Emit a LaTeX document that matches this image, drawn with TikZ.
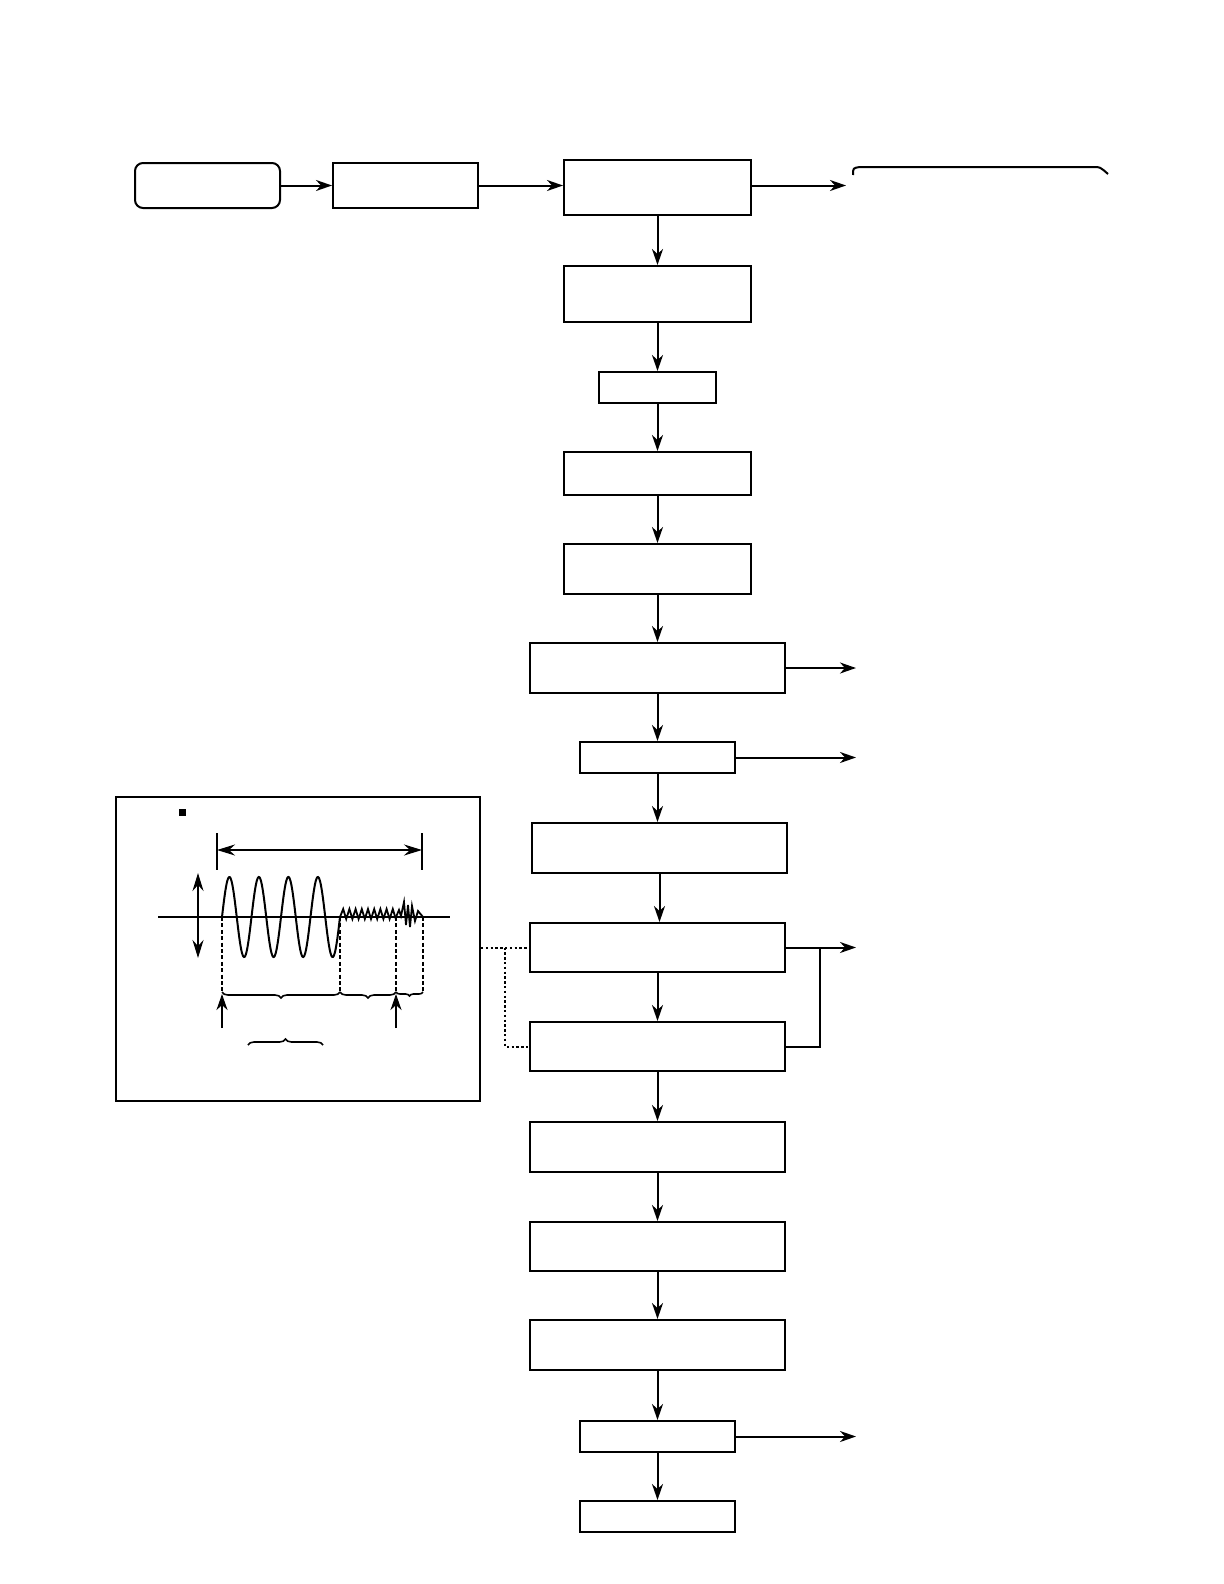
\documentclass[tikz,border=0pt]{standalone}
\usetikzlibrary{arrows.meta,positioning,decorations.pathreplacing}

\begin{document}
\begin{tikzpicture}[x=0.5pt,y=-0.5pt,
  blk/.style 2 args={draw,line width=1pt,inner sep=0pt,minimum width={#1*0.5pt},minimum height={#2*0.5pt}},
  flow/.style={-{Stealth[length=8pt,width=5.5pt,inset=2.5pt]},line width=1pt},
  dbl/.style={{Stealth[length=9pt,width=5.5pt,inset=3pt]}-{Stealth[length=9pt,width=5.5pt,inset=3pt]},line width=1pt},
  dotln/.style={line width=1pt,dash pattern=on 1.2pt off 1.2pt},
  guide/.style={line width=0.9pt,dash pattern=on 2pt off 1.2pt},
  brc/.style={decorate,decoration={brace,amplitude=3pt},line width=0.8pt}]
  \useasboundingbox (0,0) rectangle (1224,1584);

  % top row
  \node[blk={145}{45},rounded corners=4pt] (start) at (207.5,185.5) {};
  \node[blk={145}{45}] (load) at (405.5,185.5) {};
  \node[blk={187}{55}] (b3) at (657.5,187.5) {};
  \coordinate (o3) at (846,185.5);
  \draw[line width=1pt] (853,175) .. controls (853,168) .. (860,167) -- (1094,167) .. controls (1100,167) .. (1108,174);

  % main column
  \node[blk={187}{56}] (b4) at (657.5,294) {};
  \node[blk={117}{31}] (b5) at (657.5,387.5) {};
  \node[blk={187}{43}] (b6) at (657.5,473.5) {};
  \node[blk={187}{50}] (b7) at (657.5,569) {};
  \node[blk={255}{50}] (b8) at (657.5,668) {};
  \node[blk={155}{31}] (b9) at (657.5,757.5) {};
  \node[blk={255}{50}] (b10) at (659.5,848) {};
  \node[blk={255}{49}] (b11) at (657.5,947.5) {};
  \node[blk={255}{49}] (b12) at (657.5,1046.5) {};
  \node[blk={255}{50}] (b13) at (657.5,1147) {};
  \node[blk={255}{49}] (b14) at (657.5,1246.5) {};
  \node[blk={255}{50}] (b15) at (657.5,1345) {};
  \node[blk={155}{31}] (b16) at (657.5,1436.5) {};
  \node[blk={155}{31}] (b17) at (657.5,1516.5) {};
  \coordinate (o8) at (856,668);
  \coordinate (o9) at (856,757.5);
  \coordinate (o11) at (856,947.5);
  \coordinate (o16) at (856,1436.5);
  \coordinate (fb) at (820,1046.5);

  \draw[flow] (start) -- (load);
  \draw[flow] (load.east) -- (load.east -| b3.west);
  \draw[flow] (b3.east |- o3) -- (o3);
  \foreach \a/\b in {b3/b4,b4/b5,b5/b6,b6/b7,b7/b8,b8/b9,b9/b10,b10/b11,b11/b12,b12/b13,b13/b14,b14/b15,b15/b16,b16/b17}
    \draw[flow] (\a.south) -- (\a.south |- \b.north);
  \draw[flow] (b8) -- (o8);
  \draw[flow] (b9) -- (o9);
  \draw[flow] (b11) -- (o11);
  \draw[flow] (b16) -- (o16);
  \draw[line width=1pt] (b12.east) -- (fb) -- (fb |- b11.east);

  % inset with waveform
  \node[blk={364}{304}] (inset) at (298,949) {};
  \draw[dotln] (inset.east |- b11.west) -- (b11.west);
  \draw[dotln] (505,947.5) |- (b12.west);
  \fill (179,809) rectangle (186,816);
  \draw[line width=1pt] (217,833) -- (217,870) (422,833) -- (422,870);
  \draw[dbl] (217,850) -- (422,850);
  \draw[dbl] (198,873) -- (198,958);
  \draw[line width=1pt] (158,917) -- (450,917);
  \draw[line width=1pt,domain=222:340,samples=200] plot ({\x},{917-40*sin((\x-222)/29.5*360)});
  \draw[line width=0.9pt] (340,917) \foreach \i in {1,...,9} { -- ({340+6.2*\i-3},909) -- ({340+6.2*\i},919)};
  \draw[line width=0.9pt] (396,917) -- (399,910) -- (401,916) -- (404,902) -- (406,925) -- (408,905)
    -- (410,927) -- (412,906) -- (415,921) -- (418,911) -- (423,917);
  \foreach \x in {222,340,396,423}
    \draw[guide] (\x,917) -- (\x,992);
  \draw[brc,decoration={mirror}] (222,992) -- (340,992);
  \draw[brc,decoration={mirror}] (340,992) -- (396,992);
  \draw[brc,decoration={mirror,amplitude=2pt}] (396,992) -- (423,992);
  \draw[brc] (248,1045) -- (323,1045);
  \draw[flow] (222,1028) -- (222,994);
  \draw[flow] (396,1028) -- (396,994);
\end{tikzpicture}
\end{document}
